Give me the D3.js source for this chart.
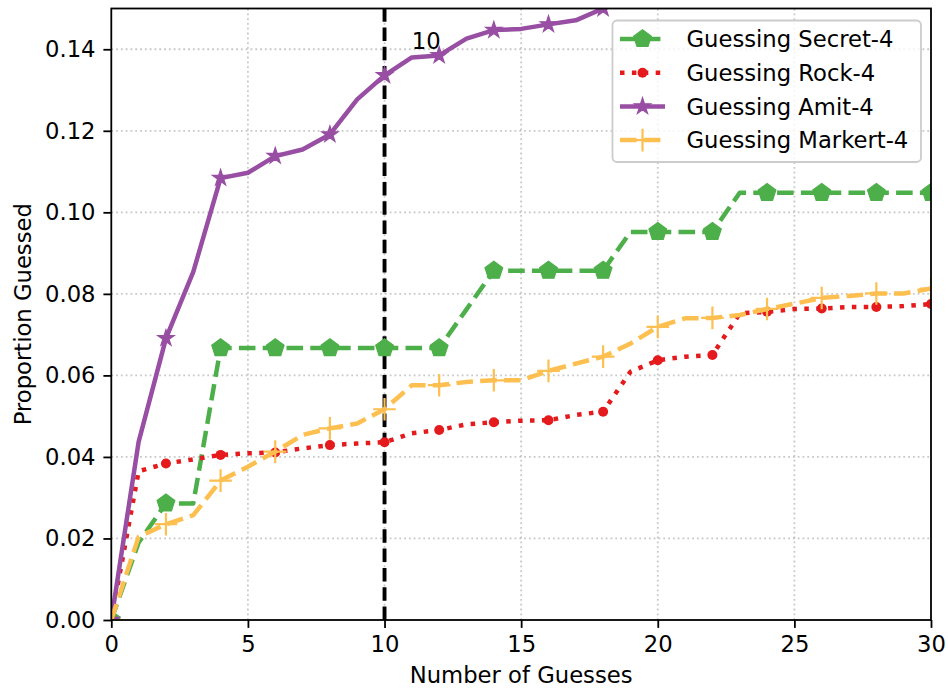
<!DOCTYPE html>
<html>
<head>
<meta charset="utf-8">
<script src="https://cdn.jsdelivr.net/npm/d3@7"></script>
<style>
  html, body { margin: 0; padding: 0; background: #fff; }
  svg { display: block; }
  text { font-family: "DejaVu Sans", sans-serif; fill: #000; }
</style>
</head>
<body>
<svg id="chart" width="948" height="692"></svg>
<script>
// Number of guesses (0..30)
const guesses = d3.range(0, 31);

// Proportion guessed per guess count, one array per series
const secret = [0, 0.0190, 0.0286, 0.0286, 0.0667, 0.0667, 0.0667, 0.0667, 0.0667, 0.0667,
  0.0667, 0.0667, 0.0667, 0.0762, 0.0857, 0.0857, 0.0857, 0.0857, 0.0857, 0.0952,
  0.0952, 0.0952, 0.0952, 0.1048, 0.1048, 0.1048, 0.1048, 0.1048, 0.1048, 0.1048, 0.1048];
const rock = [0, 0.0365, 0.0384, 0.0394, 0.0405, 0.0409, 0.0411, 0.0421, 0.0429, 0.0433,
  0.0436, 0.0458, 0.0466, 0.0480, 0.0485, 0.0489, 0.0490, 0.0503, 0.0511, 0.0609,
  0.0637, 0.0646, 0.0650, 0.0752, 0.0756, 0.0763, 0.0764, 0.0768, 0.0768, 0.0770, 0.0775];
const amit = [0, 0.0437, 0.0691, 0.0854, 0.1084, 0.1097, 0.1138, 0.1154, 0.1191, 0.1277,
  0.1336, 0.1380, 0.1385, 0.1426, 0.1447, 0.1450, 0.1461, 0.1471, 0.1500, 0.1525,
  0.1545, 0.1560, 0.1575, 0.1590, 0.1600, 0.1610, 0.1620, 0.1630, 0.1640, 0.1650, 0.1660];
const markert = [0, 0.0204, 0.0235, 0.0257, 0.0342, 0.0376, 0.0413, 0.0454, 0.0470, 0.0482,
  0.0517, 0.0576, 0.0576, 0.0584, 0.0588, 0.0588, 0.0611, 0.0629, 0.0646, 0.0678,
  0.0719, 0.0740, 0.0741, 0.0748, 0.0763, 0.0776, 0.0790, 0.0795, 0.0801, 0.0801, 0.0813];

const seriesNames = ["Guessing Secret-4", "Guessing Rock-4", "Guessing Amit-4", "Guessing Markert-4"];
const seriesValues = [secret, rock, amit, markert];

const xTicks = [0, 5, 10, 15, 20, 25, 30];
const yTicks = [0, 0.02, 0.04, 0.06, 0.08, 0.10, 0.12, 0.14];
const markedGuess = 10;
const markedLabel = "10";

// Drawing styles for each series
const styles = [
  { color: "#4daf4a", dash: "16.6,7.2", marker: "pentagon" },
  { color: "#e41a1c", dash: "4.5,7.4", marker: "circle" },
  { color: "#984ea3", dash: null, marker: "star" },
  { color: "#fdbf4f", dash: "16.6,7.2", marker: "plus" }
];

const svg = d3.select("#chart");
const pLeft = 111.3, pRight = 931, pTop = 8.5, pBottom = 620;
const x = d3.scaleLinear().domain([0, 30]).range([pLeft, pRight]);
const y = d3.scaleLinear().domain([0, 0.15]).range([pBottom, pTop]);
const FS = 22.7;

svg.append("defs").append("clipPath").attr("id", "plotclip")
  .append("rect").attr("x", pLeft).attr("y", pTop)
  .attr("width", pRight - pLeft).attr("height", pBottom - pTop);

// grid
const grid = svg.append("g");
grid.selectAll("line.gx").data(xTicks.filter(t => t > 0 && t < 30)).join("line")
  .attr("x1", d => x(d)).attr("x2", d => x(d)).attr("y1", pBottom).attr("y2", pTop)
  .attr("stroke", "#b0b0b0").attr("stroke-opacity", 0.7).attr("stroke-width", 1.8)
  .attr("stroke-dasharray", "1.8,3");
grid.selectAll("line.gy").data(yTicks.filter(t => t > 0)).join("line")
  .attr("y1", d => y(d)).attr("y2", d => y(d)).attr("x1", pLeft).attr("x2", pRight)
  .attr("stroke", "#b0b0b0").attr("stroke-opacity", 0.7).attr("stroke-width", 1.8)
  .attr("stroke-dasharray", "1.8,3");

// vertical reference line
svg.append("line")
  .attr("x1", x(markedGuess)).attr("x2", x(markedGuess))
  .attr("y1", pBottom).attr("y2", pTop)
  .attr("stroke", "#000").attr("stroke-width", 3.9)
  .attr("stroke-dasharray", "13.5,5.8");

// marker shapes
function markerPath(kind) {
  if (kind === "pentagon") {
    const r = 9.3;
    return d3.range(5).map(i => {
      const a = -Math.PI / 2 + i * 2 * Math.PI / 5;
      return [r * Math.cos(a), r * Math.sin(a)];
    });
  }
  if (kind === "star") {
    const R = 8.6, ri = R * 0.381966;
    return d3.range(10).map(i => {
      const a = -Math.PI / 2 + i * Math.PI / 5;
      const rr = i % 2 === 0 ? R : ri;
      return [rr * Math.cos(a), rr * Math.sin(a)];
    });
  }
  return null;
}

function drawMarker(g, kind, color, cx, cy) {
  if (kind === "circle") {
    g.append("circle").attr("cx", cx).attr("cy", cy).attr("r", 5).attr("fill", color);
  } else if (kind === "plus") {
    const h = 11.3;
    g.append("path").attr("d", `M${cx - h},${cy}H${cx + h}M${cx},${cy - h}V${cy + h}`)
      .attr("stroke", color).attr("stroke-width", 2.2).attr("fill", "none");
  } else {
    const pts = markerPath(kind);
    g.append("path")
      .attr("d", "M" + pts.map(p => [cx + p[0], cy + p[1]].join(",")).join("L") + "Z")
      .attr("fill", color).attr("stroke", color).attr("stroke-width", 1.2)
      .attr("stroke-linejoin", "miter");
  }
}

// series
const plot = svg.append("g").attr("clip-path", "url(#plotclip)");
const line = d3.line().x(d => x(d[0])).y(d => y(d[1]));
seriesValues.forEach((vals, si) => {
  const st = styles[si];
  const pts = guesses.map((g, i) => [g, vals[i]]);
  const p = plot.append("path").attr("d", line(pts))
    .attr("fill", "none").attr("stroke", st.color).attr("stroke-width", 4.5)
    .attr("stroke-linejoin", "round");
  if (st.dash) p.attr("stroke-dasharray", st.dash);
  const mg = plot.append("g");
  pts.filter((d, i) => i % 2 === 0).forEach(d => drawMarker(mg, st.marker, st.color, x(d[0]), y(d[1])));
});

// annotation
svg.append("text").attr("x", x(11)).attr("y", y(0.14))
  .attr("font-size", FS).text(markedLabel);

// axes
const xAxis = d3.axisBottom(x).tickValues(xTicks).tickFormat(d3.format("d"))
  .tickSizeInner(7.9).tickSizeOuter(0).tickPadding(7.9);
const yAxis = d3.axisLeft(y).tickValues(yTicks).tickFormat(d3.format(".2f"))
  .tickSizeInner(7.9).tickSizeOuter(0).tickPadding(7.9);
const gx = svg.append("g").attr("transform", `translate(0,${pBottom})`).call(xAxis);
const gy = svg.append("g").attr("transform", `translate(${pLeft},0)`).call(yAxis);
[gx, gy].forEach(g => {
  g.select(".domain").remove();
  g.selectAll(".tick line").attr("stroke", "#000").attr("stroke-width", 1.8);
  g.selectAll(".tick text").attr("font-size", FS).attr("font-family", "DejaVu Sans").attr("fill", "#000");
});

// spines
svg.append("rect").attr("x", pLeft).attr("y", pTop)
  .attr("width", pRight - pLeft).attr("height", pBottom - pTop)
  .attr("fill", "none").attr("stroke", "#000").attr("stroke-width", 1.8);

// axis labels
svg.append("text").attr("x", (pLeft + pRight) / 2).attr("y", 683)
  .attr("text-anchor", "middle").attr("font-size", FS).text("Number of Guesses");
svg.append("text").attr("transform", `translate(31,${(pTop + pBottom) / 2}) rotate(-90)`)
  .attr("text-anchor", "middle").attr("font-size", FS).text("Proportion Guessed");

// legend
const lg = svg.append("g");
lg.append("rect").attr("x", 612.5).attr("y", 20.5).attr("width", 308.5).attr("height", 141.5)
  .attr("rx", 4.5).attr("fill", "#fff").attr("fill-opacity", 0.8)
  .attr("stroke", "#cccccc").attr("stroke-width", 1.8);
seriesNames.forEach((name, i) => {
  const st = styles[i];
  const cy = 39 + i * 33.7;
  const l = lg.append("line").attr("x1", 620).attr("x2", 665).attr("y1", cy).attr("y2", cy)
    .attr("stroke", st.color).attr("stroke-width", 4.5);
  if (st.dash) l.attr("stroke-dasharray", st.dash);
  drawMarker(lg, st.marker, st.color, 642.5, cy);
  lg.append("text").attr("x", 686.5).attr("y", cy + 8.2).attr("font-size", FS).text(name);
});
</script>
</body>
</html>
